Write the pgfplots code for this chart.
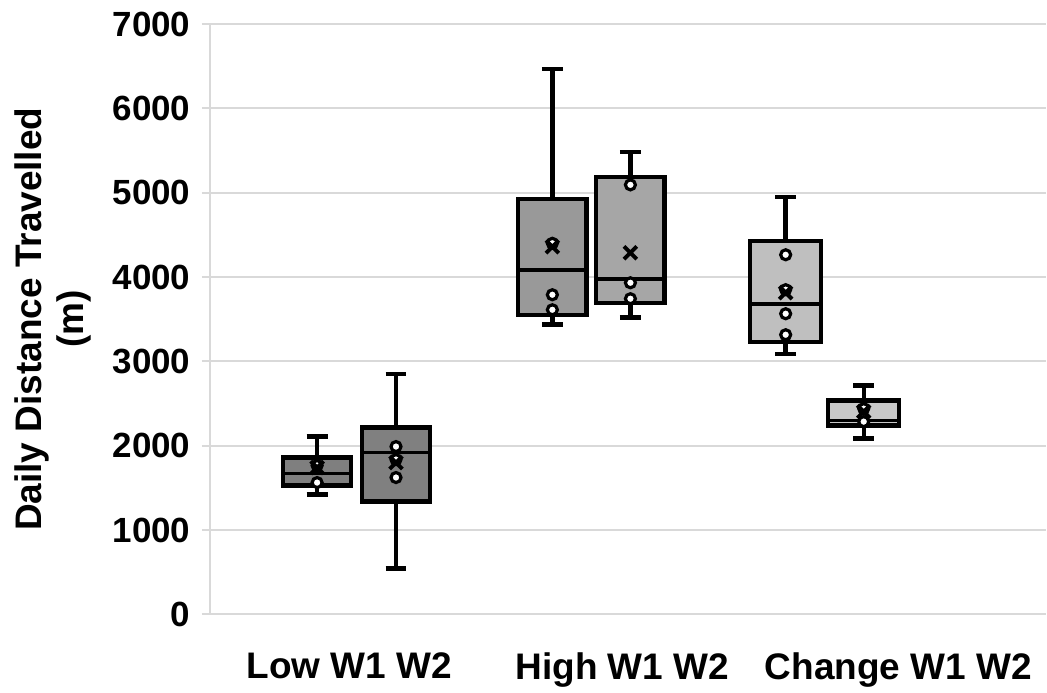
\documentclass[border=0pt]{standalone}
\usepackage{fontspec}
\setmainfont{Liberation Sans}
\usepackage{pgfplots}
\pgfplotsset{compat=1.18}
\definecolor{gridc}{RGB}{217,217,217}
\definecolor{cA}{RGB}{127,127,127}
\definecolor{cB}{RGB}{128,128,128}
\definecolor{cC}{RGB}{153,153,153}
\definecolor{cD}{RGB}{166,166,166}
\definecolor{cE}{RGB}{191,191,191}
\definecolor{cF}{RGB}{200,200,200}
\begin{document}
\begin{tikzpicture}
\begin{axis}[
  scale only axis,
  width=418.5pt, height=295.5pt,
  xmin=0, xmax=3, ymin=0, ymax=7000,
  enlargelimits=false,
  unbounded coords=jump,
  axis x line*=bottom, axis y line*=left,
  axis line style={draw=gridc, line width=1pt},
  ymajorgrids, grid style={draw=gridc, line width=1pt},
  ytick={0,1000,2000,3000,4000,5000,6000,7000},
  xtick={0.5,1.48,2.47},
  xticklabels={Low W1 W2, High W1 W2, Change W1 W2},
  tick align=outside, major tick length=4pt,
  xtick style={draw=none},
  ytick style={draw=gridc, line width=1pt},
  /pgf/number format/assume math mode=true,
  /pgf/number format/1000 sep={},
  yticklabel style={font=\fontsize{17.5pt}{20pt}\selectfont\bfseries, anchor=east, inner sep=0pt, xshift=-5.5pt},
  xticklabel style={font=\fontsize{18.5pt}{21pt}\selectfont\bfseries, anchor=north, inner sep=0pt, yshift=-15pt},
  ylabel={Daily Distance Travelled\\(m)},
  ylabel style={font=\fontsize{18.5pt}{21pt}\selectfont\bfseries, align=center, inner sep=0pt, at={(axis description cs:-0.141,0.5)}, anchor=south},
]
% ---- whiskers (vertical lines and caps) ----
\addplot[black, line width=2.2pt, mark=none] coordinates {
(0.385,1860) (0.385,2108) (0.385,nan) (0.3475,2108) (0.4225,2108) (0.385,nan)
(0.385,1528) (0.385,1421) (0.385,nan) (0.3475,1421) (0.4225,1421)
};
\addplot[black, line width=2.2pt, mark=none] coordinates {
(0.668,2215) (0.668,2854) (0.668,nan) (0.6305,2854) (0.7055,2854) (0.668,nan)
(0.668,1338) (0.668,545) (0.668,nan) (0.6305,545) (0.7055,545)
};
\addplot[black, line width=2.2pt, mark=none] coordinates {
(1.229,4927) (1.229,6467) (1.229,nan) (1.1915,6467) (1.2665,6467) (1.229,nan)
(1.229,3553) (1.229,3435) (1.229,nan) (1.1915,3435) (1.2665,3435)
};
\addplot[black, line width=2.2pt, mark=none] coordinates {
(1.509,5188) (1.509,5484) (1.509,nan) (1.4715,5484) (1.5465,5484) (1.509,nan)
(1.509,3695) (1.509,3518) (1.509,nan) (1.4715,3518) (1.5465,3518)
};
\addplot[black, line width=2.2pt, mark=none] coordinates {
(2.066,4430) (2.066,4951) (2.066,nan) (2.0285,4951) (2.1035,4951) (2.066,nan)
(2.066,3233) (2.066,3091) (2.066,nan) (2.0285,3091) (2.1035,3091)
};
\addplot[black, line width=2.2pt, mark=none] coordinates {
(2.346,2535) (2.346,2712) (2.346,nan) (2.3085,2712) (2.3835,2712) (2.346,nan)
(2.346,2239) (2.346,2085) (2.346,nan) (2.3085,2085) (2.3835,2085)
};
% ---- boxes (lower quartile to upper quartile) ----
\addplot[draw=black, fill=cA, line width=2.2pt, mark=none] coordinates {(0.2625,1528) (0.5075,1528) (0.5075,1860) (0.2625,1860) (0.2625,1528)} -- cycle;
\addplot[draw=black, fill=cB, line width=2.2pt, mark=none] coordinates {(0.5455,1338) (0.7905,1338) (0.7905,2215) (0.5455,2215) (0.5455,1338)} -- cycle;
\addplot[draw=black, fill=cC, line width=2.2pt, mark=none] coordinates {(1.1065,3553) (1.3515,3553) (1.3515,4927) (1.1065,4927) (1.1065,3553)} -- cycle;
\addplot[draw=black, fill=cD, line width=2.2pt, mark=none] coordinates {(1.3865,3695) (1.6315,3695) (1.6315,5188) (1.3865,5188) (1.3865,3695)} -- cycle;
\addplot[draw=black, fill=cE, line width=2.2pt, mark=none] coordinates {(1.9385,3233) (2.1935,3233) (2.1935,4430) (1.9385,4430) (1.9385,3233)} -- cycle;
\addplot[draw=black, fill=cF, line width=2.2pt, mark=none] coordinates {(2.2185,2239) (2.4735,2239) (2.4735,2535) (2.2185,2535) (2.2185,2239)} -- cycle;
% ---- medians ----
\addplot[black, line width=1.9pt, mark=none] coordinates {
(0.2625,1670) (0.5075,1670) (0.5075,nan)
(0.5455,1919) (0.7905,1919) (0.7905,nan)
(1.1065,4086) (1.3515,4086) (1.3515,nan)
(1.3865,3980) (1.6315,3980) (1.6315,nan)
(1.9385,3683) (2.1935,3683) (2.1935,nan)
(2.2185,2298) (2.4735,2298)
};
% ---- inner points ----
\addplot[only marks, mark=*, mark size=2.5pt, mark options={draw=black, fill=white, line width=1.6pt}] coordinates {
(0.385,1765) (0.385,1563)
(0.668,1990) (0.668,1623) (0.668,1836)
(1.229,4400) (1.229,3790) (1.229,3612)
(1.509,5093) (1.509,3932) (1.509,3743)
(2.066,4264) (2.066,3565) (2.066,3316) (2.066,3850)
(2.346,2286) (2.346,2440)
};
% ---- means ----
\addplot[only marks, mark=x, mark size=4.5pt, mark options={draw=black, line width=2pt}] coordinates {
(0.385,1741) (0.668,1800) (1.229,4359) (1.509,4288) (2.066,3814) (2.346,2404)
};
\end{axis}
\path[use as bounding box] (-105pt,-39pt) rectangle (418.5pt,307.5pt);
\end{tikzpicture}
\end{document}
